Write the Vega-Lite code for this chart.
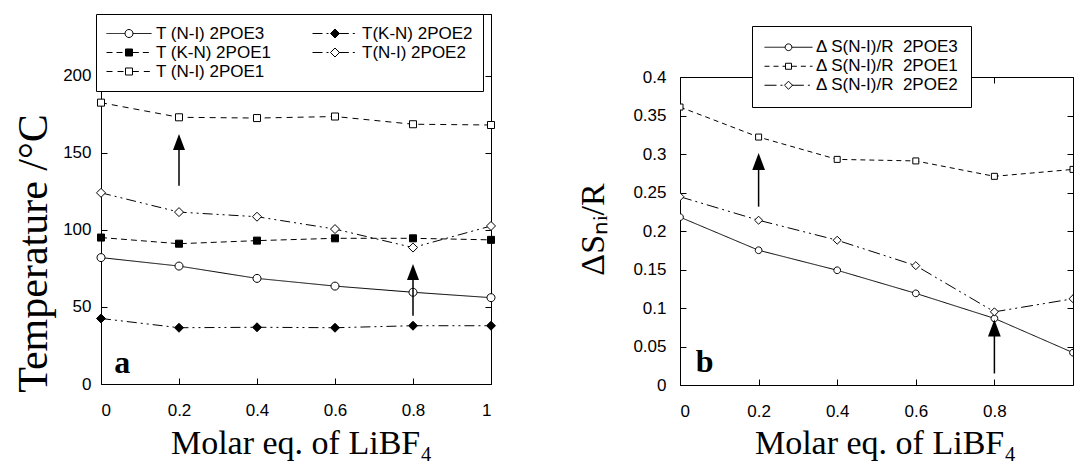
{
  "$schema": "https://vega.github.io/schema/vega-lite/v6.json",
  "padding": {"left": 11, "top": 13, "right": 0, "bottom": 0},
  "config": {
    "view": {"stroke": "black", "strokeWidth": 1},
    "axis": {"grid": false, "domain": false, "tickSize": -6, "tickColor": "black", "tickWidth": 1,
      "labelFont": "Liberation Sans", "labelFontSize": 17, "labelColor": "black",
      "titleFont": "Liberation Serif", "titleFontSize": 34, "titleFontWeight": "normal", "titleColor": "black"},
    "legend": {"labelFont": "Liberation Sans", "labelFontSize": 17, "labelColor": "black", "symbolStrokeWidth": 1}
  },
  "datasets": {
    "temperature": [
      {"molar_eq": 0, "temperature": 82, "series": "T (N-I) 2POE3"},
      {"molar_eq": 0.2, "temperature": 76.5, "series": "T (N-I) 2POE3"},
      {"molar_eq": 0.4, "temperature": 68.5, "series": "T (N-I) 2POE3"},
      {"molar_eq": 0.6, "temperature": 63.5, "series": "T (N-I) 2POE3"},
      {"molar_eq": 0.8, "temperature": 59.5, "series": "T (N-I) 2POE3"},
      {"molar_eq": 1, "temperature": 56, "series": "T (N-I) 2POE3"},
      {"molar_eq": 0, "temperature": 42.5, "series": "T(K-N) 2POE2"},
      {"molar_eq": 0.2, "temperature": 36.5, "series": "T(K-N) 2POE2"},
      {"molar_eq": 0.4, "temperature": 36.8, "series": "T(K-N) 2POE2"},
      {"molar_eq": 0.6, "temperature": 36.5, "series": "T(K-N) 2POE2"},
      {"molar_eq": 0.8, "temperature": 37.8, "series": "T(K-N) 2POE2"},
      {"molar_eq": 1, "temperature": 37.8, "series": "T(K-N) 2POE2"},
      {"molar_eq": 0, "temperature": 95, "series": "T (K-N) 2POE1"},
      {"molar_eq": 0.2, "temperature": 91, "series": "T (K-N) 2POE1"},
      {"molar_eq": 0.4, "temperature": 93, "series": "T (K-N) 2POE1"},
      {"molar_eq": 0.6, "temperature": 94.5, "series": "T (K-N) 2POE1"},
      {"molar_eq": 0.8, "temperature": 94.5, "series": "T (K-N) 2POE1"},
      {"molar_eq": 1, "temperature": 93.5, "series": "T (K-N) 2POE1"},
      {"molar_eq": 0, "temperature": 124, "series": "T(N-I) 2POE2"},
      {"molar_eq": 0.2, "temperature": 111.5, "series": "T(N-I) 2POE2"},
      {"molar_eq": 0.4, "temperature": 108.5, "series": "T(N-I) 2POE2"},
      {"molar_eq": 0.6, "temperature": 100.5, "series": "T(N-I) 2POE2"},
      {"molar_eq": 0.8, "temperature": 88.5, "series": "T(N-I) 2POE2"},
      {"molar_eq": 1, "temperature": 102.5, "series": "T(N-I) 2POE2"},
      {"molar_eq": 0, "temperature": 182.5, "series": "T (N-I) 2POE1"},
      {"molar_eq": 0.2, "temperature": 173, "series": "T (N-I) 2POE1"},
      {"molar_eq": 0.4, "temperature": 172.5, "series": "T (N-I) 2POE1"},
      {"molar_eq": 0.6, "temperature": 173.5, "series": "T (N-I) 2POE1"},
      {"molar_eq": 0.8, "temperature": 168.5, "series": "T (N-I) 2POE1"},
      {"molar_eq": 1, "temperature": 168, "series": "T (N-I) 2POE1"}
    ],
    "entropy": [
      {"molar_eq": 0, "entropy": 0.218, "series": "Δ S(N-I)/R\u00a0 2POE3"},
      {"molar_eq": 0.2, "entropy": 0.175, "series": "Δ S(N-I)/R\u00a0 2POE3"},
      {"molar_eq": 0.4, "entropy": 0.149, "series": "Δ S(N-I)/R\u00a0 2POE3"},
      {"molar_eq": 0.6, "entropy": 0.119, "series": "Δ S(N-I)/R\u00a0 2POE3"},
      {"molar_eq": 0.8, "entropy": 0.0865, "series": "Δ S(N-I)/R\u00a0 2POE3"},
      {"molar_eq": 1, "entropy": 0.042, "series": "Δ S(N-I)/R\u00a0 2POE3"},
      {"molar_eq": 0, "entropy": 0.361, "series": "Δ S(N-I)/R\u00a0 2POE1"},
      {"molar_eq": 0.2, "entropy": 0.322, "series": "Δ S(N-I)/R\u00a0 2POE1"},
      {"molar_eq": 0.4, "entropy": 0.293, "series": "Δ S(N-I)/R\u00a0 2POE1"},
      {"molar_eq": 0.6, "entropy": 0.291, "series": "Δ S(N-I)/R\u00a0 2POE1"},
      {"molar_eq": 0.8, "entropy": 0.271, "series": "Δ S(N-I)/R\u00a0 2POE1"},
      {"molar_eq": 1, "entropy": 0.28, "series": "Δ S(N-I)/R\u00a0 2POE1"},
      {"molar_eq": 0, "entropy": 0.2445, "series": "Δ S(N-I)/R\u00a0 2POE2"},
      {"molar_eq": 0.2, "entropy": 0.214, "series": "Δ S(N-I)/R\u00a0 2POE2"},
      {"molar_eq": 0.4, "entropy": 0.188, "series": "Δ S(N-I)/R\u00a0 2POE2"},
      {"molar_eq": 0.6, "entropy": 0.155, "series": "Δ S(N-I)/R\u00a0 2POE2"},
      {"molar_eq": 0.8, "entropy": 0.095, "series": "Δ S(N-I)/R\u00a0 2POE2"},
      {"molar_eq": 1, "entropy": 0.112, "series": "Δ S(N-I)/R\u00a0 2POE2"}
    ],
    "arrows_a": [
      {"molar_eq": 0.2, "tail": 128.6, "head": 157},
      {"molar_eq": 0.8, "tail": 44.3, "head": 72.6}
    ],
    "arrows_b": [
      {"molar_eq": 0.2, "tail": 0.2316, "head": 0.2904},
      {"molar_eq": 0.8, "tail": 0.015, "head": 0.074}
    ],
    "panel_a": [{"molar_eq": 0.034, "temperature": 7.3, "label": "a"}],
    "panel_b": [{"molar_eq": 0.04, "entropy": 0.0173, "label": "b"}]
  },
  "spacing": 77,
  "resolve": {
    "scale": {"strokeDash": "independent", "shape": "independent", "fill": "independent", "stroke": "independent"},
    "legend": {"strokeDash": "independent", "shape": "independent", "fill": "independent", "stroke": "independent"}
  },
  "hconcat": [
    {
      "width": 390,
      "height": 370,
      "data": {"name": "temperature"},
      "resolve": {"axis": {"x": "independent", "y": "independent"}},
      "layer": [
        {
          "mark": {"type": "line", "stroke": "black", "strokeWidth": 1},
          "encoding": {
            "x": {"field": "molar_eq", "type": "quantitative", "scale": {"domain": [0, 1]},
              "axis": {"orient": "bottom", "values": [0, 0.2, 0.4, 0.6, 0.8, 1], "format": ".4~g", "labelPadding": 24,
                "title": "Molar eq. of LiBF₄", "titleX": 200, "titleY": 69, "titleBaseline": "alphabetic"}},
            "y": {"field": "temperature", "type": "quantitative", "scale": {"domain": [0, 240]},
              "axis": {"orient": "left", "values": [0, 50, 100, 150, 200], "format": ".4~g", "labelPadding": 16,
                "title": "Temperature /°C", "titleFontSize": 42, "titleX": -55, "titleY": 239, "titleBaseline": "alphabetic"}},
            "strokeDash": {"field": "series", "type": "nominal",
              "sort": ["T (N-I) 2POE3", "T (K-N) 2POE1", "T (N-I) 2POE1", "T(K-N) 2POE2", "T(N-I) 2POE2"],
              "scale": {"range": [[1, 0], [6, 4], [6, 5], [10, 4, 2, 4, 2, 4], [10, 4, 2, 4, 2, 4]]},
              "legend": {"orient": "none", "legendX": -5, "legendY": 0, "title": null, "columns": 2, "columnPadding": 40,
                "symbolType": "M-1,0H-0.17M0.17,0H1", "symbolSize": 2025, "symbolStrokeWidth": 1, "symbolStrokeColor": "black",
                "clipHeight": 19, "rowPadding": 0, "padding": 10, "labelOffset": 4, "zindex": 1}}
          }
        },
        {
          "mark": {"type": "point", "strokeWidth": 1, "opacity": 1, "size": 2025},
          "encoding": {
            "x": {"field": "molar_eq", "type": "quantitative", "axis": null},
            "y": {"field": "temperature", "type": "quantitative", "axis": null},
            "shape": {"field": "series", "type": "nominal",
              "scale": {"domain": ["T (N-I) 2POE3", "T (K-N) 2POE1", "T (N-I) 2POE1", "T(K-N) 2POE2", "T(N-I) 2POE2"],
                "range": [
                  "M-0.178,0A0.178,0.178,0,1,0,0.178,0A0.178,0.178,0,1,0,-0.178,0Z",
                  "M-0.156,-0.156H0.156V0.156H-0.156Z",
                  "M-0.156,-0.156H0.156V0.156H-0.156Z",
                  "M0,-0.2L0.2,0L0,0.2L-0.2,0Z",
                  "M0,-0.2L0.2,0L0,0.2L-0.2,0Z"]},
              "legend": {"orient": "none", "legendX": -5, "legendY": 0, "title": null, "columns": 2, "columnPadding": 40,
                "symbolSize": 2025, "symbolStrokeWidth": 1,
                "clipHeight": 19, "rowPadding": 0, "padding": 10, "labelOffset": 4, "labelOpacity": 0,
                "strokeColor": "black", "fillColor": "white"}},
            "fill": {"field": "series", "type": "nominal",
              "scale": {"domain": ["T (N-I) 2POE3", "T (K-N) 2POE1", "T (N-I) 2POE1", "T(K-N) 2POE2", "T(N-I) 2POE2"],
                "range": ["white", "black", "white", "black", "white"]}},
            "stroke": {"field": "series", "type": "nominal",
              "scale": {"domain": ["T (N-I) 2POE3", "T (K-N) 2POE1", "T (N-I) 2POE1", "T(K-N) 2POE2", "T(N-I) 2POE2"],
                "range": ["black", "black", "black", "black", "black"]}}
          }
        },
        {
          "data": {"name": "arrows_a"},
          "mark": {"type": "rule", "stroke": "black", "strokeWidth": 1.5},
          "encoding": {
            "x": {"field": "molar_eq", "type": "quantitative", "axis": null},
            "y": {"field": "tail", "type": "quantitative", "axis": null},
            "y2": {"field": "head"}
          }
        },
        {
          "data": {"name": "arrows_a"},
          "mark": {"type": "point", "shape": "M0,-1L0.75,1L-0.75,1Z", "size": 256, "filled": true, "fill": "black", "stroke": null, "opacity": 1},
          "encoding": {
            "x": {"field": "molar_eq", "type": "quantitative", "axis": null},
            "y": {"field": "head", "type": "quantitative", "axis": null}
          }
        },
        {
          "data": {"name": "panel_a"},
          "mark": {"type": "text", "font": "Liberation Serif", "fontWeight": "bold", "fontSize": 32, "align": "left", "baseline": "alphabetic", "color": "black"},
          "encoding": {
            "x": {"field": "molar_eq", "type": "quantitative", "axis": null},
            "y": {"field": "temperature", "type": "quantitative", "axis": null},
            "text": {"field": "label"}
          }
        },
        {
          "mark": {"type": "point", "opacity": 0},
          "encoding": {
            "x": {"field": "molar_eq", "type": "quantitative",
              "axis": {"orient": "top", "values": [0, 0.2, 0.4, 0.6, 0.8, 1], "labels": false, "title": null}},
            "y": {"field": "temperature", "type": "quantitative",
              "axis": {"orient": "right", "values": [0, 50, 100, 150, 200], "labels": false, "title": null}}
          }
        }
      ]
    },
    {
      "spacing": 0,
      "resolve": {
        "scale": {"strokeDash": "independent", "shape": "independent", "fill": "independent", "stroke": "independent"},
        "legend": {"strokeDash": "independent", "shape": "independent", "fill": "independent", "stroke": "independent"}
      },
      "vconcat": [
        {
          "width": 1,
          "height": 11,
          "data": {"values": [{"spacer": 1}]},
          "mark": {"type": "point", "opacity": 0, "size": 1},
          "encoding": {},
          "view": {"stroke": null}
        },
        {
          "width": 393,
          "height": 308,
          "data": {"name": "entropy"},
          "resolve": {"axis": {"x": "independent", "y": "independent"}},
          "layer": [
            {
              "mark": {"type": "line", "stroke": "black", "strokeWidth": 1, "clip": true},
              "encoding": {
                "x": {"field": "molar_eq", "type": "quantitative", "scale": {"domain": [0, 0.985]},
                  "axis": {"orient": "bottom", "values": [0, 0.2, 0.4, 0.6, 0.8], "format": ".4~g", "labelPadding": 24,
                    "title": "Molar eq. of LiBF₄", "titleX": 205, "titleY": 68, "titleBaseline": "alphabetic"}},
                "y": {"field": "entropy", "type": "quantitative", "scale": {"domain": [0, 0.4]},
                  "axis": {"orient": "left", "values": [0, 0.05, 0.1, 0.15, 0.2, 0.25, 0.3, 0.35, 0.4], "format": ".4~g", "labelPadding": 20,
                    "title": "ΔSₙᵢ/R", "titleX": -77, "titleY": 152, "titleBaseline": "alphabetic"}},
                "strokeDash": {"field": "series", "type": "nominal",
                  "sort": ["Δ S(N-I)/R\u00a0 2POE3", "Δ S(N-I)/R\u00a0 2POE1", "Δ S(N-I)/R\u00a0 2POE2"],
                  "scale": {"range": [[1, 0], [5, 4], [12, 4, 2, 4, 2, 4]]},
                  "legend": {"orient": "none", "legendX": 72, "legendY": -51, "title": null,
                    "symbolType": "M-1,0H-0.14M0.14,0H1", "symbolSize": 2304, "symbolStrokeWidth": 1, "symbolStrokeColor": "black",
                    "clipHeight": 18.5, "rowPadding": 0, "padding": 12, "labelOffset": 3, "zindex": 1}}
              }
            },
            {
              "mark": {"type": "point", "strokeWidth": 1, "opacity": 1, "size": 2304, "clip": true},
              "encoding": {
                "x": {"field": "molar_eq", "type": "quantitative", "axis": null},
                "y": {"field": "entropy", "type": "quantitative", "axis": null},
                "shape": {"field": "series", "type": "nominal",
                  "scale": {"domain": ["Δ S(N-I)/R\u00a0 2POE3", "Δ S(N-I)/R\u00a0 2POE1", "Δ S(N-I)/R\u00a0 2POE2"],
                    "range": [
                      "M-0.14,0A0.14,0.14,0,1,0,0.14,0A0.14,0.14,0,1,0,-0.14,0Z",
                      "M-0.125,-0.125H0.125V0.125H-0.125Z",
                      "M0,-0.167L0.167,0L0,0.167L-0.167,0Z"]},
                  "legend": {"orient": "none", "legendX": 72, "legendY": -51, "title": null,
                    "symbolSize": 2304, "symbolStrokeWidth": 1,
                    "clipHeight": 18.5, "rowPadding": 0, "padding": 12, "labelOffset": 3, "labelOpacity": 0,
                    "strokeColor": "black", "fillColor": "white"}},
                "fill": {"field": "series", "type": "nominal",
                  "scale": {"domain": ["Δ S(N-I)/R\u00a0 2POE3", "Δ S(N-I)/R\u00a0 2POE1", "Δ S(N-I)/R\u00a0 2POE2"],
                    "range": ["white", "white", "white"]}},
                "stroke": {"field": "series", "type": "nominal",
                  "scale": {"domain": ["Δ S(N-I)/R\u00a0 2POE3", "Δ S(N-I)/R\u00a0 2POE1", "Δ S(N-I)/R\u00a0 2POE2"],
                    "range": ["black", "black", "black"]}}
              }
            },
            {
              "data": {"name": "arrows_b"},
              "mark": {"type": "rule", "stroke": "black", "strokeWidth": 1.5},
              "encoding": {
                "x": {"field": "molar_eq", "type": "quantitative", "axis": null},
                "y": {"field": "tail", "type": "quantitative", "axis": null},
                "y2": {"field": "head"}
              }
            },
            {
              "data": {"name": "arrows_b"},
              "mark": {"type": "point", "shape": "M0,-1L0.75,1L-0.75,1Z", "size": 289, "filled": true, "fill": "black", "stroke": null, "opacity": 1},
              "encoding": {
                "x": {"field": "molar_eq", "type": "quantitative", "axis": null},
                "y": {"field": "head", "type": "quantitative", "axis": null}
              }
            },
            {
              "data": {"name": "panel_b"},
              "mark": {"type": "text", "font": "Liberation Serif", "fontWeight": "bold", "fontSize": 32, "align": "left", "baseline": "alphabetic", "color": "black"},
              "encoding": {
                "x": {"field": "molar_eq", "type": "quantitative", "axis": null},
                "y": {"field": "entropy", "type": "quantitative", "axis": null},
                "text": {"field": "label"}
              }
            },
            {
              "mark": {"type": "point", "opacity": 0, "clip": true},
              "encoding": {
                "x": {"field": "molar_eq", "type": "quantitative",
                  "axis": {"orient": "top", "values": [0, 0.2, 0.4, 0.6, 0.8], "labels": false, "title": null}},
                "y": {"field": "entropy", "type": "quantitative",
                  "axis": {"orient": "right", "values": [0, 0.05, 0.1, 0.15, 0.2, 0.25, 0.3, 0.35, 0.4], "labels": false, "title": null}}
              }
            }
          ]
        }
      ]
    }
  ]
}
